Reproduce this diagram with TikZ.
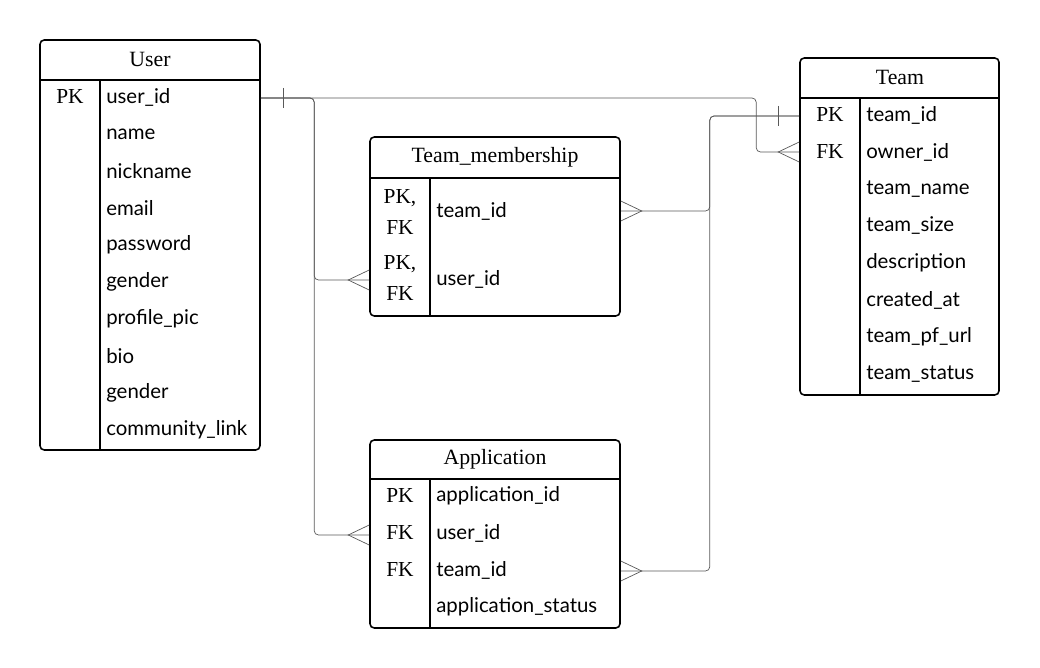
\documentclass[tikz,border=0pt]{standalone}
\usepackage{fontspec}
\setmainfont{Liberation Serif}
\newfontfamily\fieldfont{Lato}
\usetikzlibrary{calc}
\usetikzlibrary{fit}
\usetikzlibrary{positioning}

\begin{document}
\begin{tikzpicture}[x=0.025cm, y=-0.025cm,
		tbl/.style={draw, line width=1.1pt, rounded corners=3pt, inner sep=0pt},
		rule/.style={line width=1.1pt},
		head/.style={font=\fontsize{15.5}{18}\selectfont},
		key/.style={font=\fontsize{15.2}{22}\selectfont, align=center, inner sep=0pt},
		field/.style={anchor=west, font=\fieldfont\fontsize{14.5}{17}\selectfont, inner sep=0pt},
		link/.style={draw=black!65, line width=0.5pt, rounded corners=3pt}]
		\useasboundingbox (0,0) rectangle (1040,668);

		% User
		\node[tbl, fit={(40,40) (260,450)}] (user) {};
		\node[head] (user-title) at (150,59) {User};
		\draw[rule] (40,80) -- (260,80);
		\draw[rule] (100,80) -- (100,450);
		\node[key] (user-k1) at (70,97) {PK};
		\foreach \fname [count=\i] in {user\_id, name, nickname, email, password, gender, profile\_pic, bio, gender, community\_link}
			\node[field] (user-f\i) at (106,{60+37*\i}) {\fname};

		% Team_membership
		\node[tbl, fit={(370,137) (620,316)}] (tm) {};
		\node[head] (tm-title) at (495,157) {Team\_membership};
		\draw[rule] (370,178) -- (620,178);
		\draw[rule] (430,178) -- (430,316);
		\node[key] (tm-k1) at (400,212) {PK,\\FK};
		\node[key] (tm-k2) at (400,278) {PK,\\FK};
		\node[field] (tm-f1) at (436,211) {team\_id};
		\node[field] (tm-f2) at (436,279) {user\_id};

		% Team
		\node[tbl, fit={(800,58) (999,395)}] (team) {};
		\node[head] (team-title) at (900,77) {Team};
		\draw[rule] (800,98) -- (999,98);
		\draw[rule] (860,98) -- (860,395);
		\node[key] (team-k1) at (830,115) {PK};
		\node[key] (team-k2) at (830,152) {FK};
		\foreach \fname [count=\i] in {team\_id, owner\_id, team\_name, team\_size, description, created\_at, team\_pf\_url, team\_status}
			\node[field] (team-f\i) at (866,{78+37*\i}) {\fname};

		% Application
		\node[tbl, fit={(370,440) (620,628)}] (app) {};
		\node[head] (app-title) at (495,459) {Application};
		\draw[rule] (370,479) -- (620,479);
		\draw[rule] (430,479) -- (430,628);
		\node[key] (app-k1) at (400,496) {PK};
		\node[key] (app-k2) at (400,533) {FK};
		\node[key] (app-k3) at (400,570) {FK};
		\foreach \fname [count=\i] in {application\_id, user\_id, team\_id, application\_status}
			\node[field] (app-f\i) at (436,{459+37*\i}) {\fname};

		% connector ends
		\coordinate (user-one) at ($(user.east |- user-f1)+(0,1)$);
		\coordinate (team-one) at ($(team.west |- team-f1)+(0,1)$);
		\coordinate (team-many) at (team.west |- team-k2);
		\coordinate (tm-user) at ($(tm.west |- tm-f2)+(0,1)$);
		\coordinate (tm-team) at (tm.east |- tm-f1);
		\coordinate (app-user) at ($(app.west |- app-f2)+(0,2)$);
		\coordinate (app-team) at ($(app.east |- app-f3)+(0,1)$);

		% User -> Team, Team_membership, Application
		\draw[link] (user-one) -| ($(team-many)+(-43,0)$) -- (team-many);
		\draw[link] (user-one) -| ($(tm-user)+(-55,0)$) -- (tm-user);
		\draw[link] (user-one) -| ($(app-user)+(-55,0)$) -- (app-user);
		\draw[link] ($(user-one)+(23,-10)$) -- ($(user-one)+(23,10)$);

		% Team -> Team_membership, Application
		\draw[link] (team-one) -| ($(tm-team)+(89,0)$) -- (tm-team);
		\draw[link] (team-one) -| ($(app-team)+(89,0)$) -- (app-team);
		\draw[link] ($(team-one)+(-21,-10)$) -- ($(team-one)+(-21,10)$);

		% crow's feet
		\draw[link, sharp corners] ($(team-many)+(0,-10)$) -- ($(team-many)+(-21,0)$) -- ($(team-many)+(0,10)$);
		\draw[link, sharp corners] ($(tm-user)+(0,-10)$) -- ($(tm-user)+(-21,0)$) -- ($(tm-user)+(0,10)$);
		\draw[link, sharp corners] ($(app-user)+(0,-10)$) -- ($(app-user)+(-21,0)$) -- ($(app-user)+(0,10)$);
		\draw[link, sharp corners] ($(tm-team)+(0,-10)$) -- ($(tm-team)+(21,0)$) -- ($(tm-team)+(0,10)$);
		\draw[link, sharp corners] ($(app-team)+(0,-10)$) -- ($(app-team)+(21,0)$) -- ($(app-team)+(0,10)$);
\end{tikzpicture}
\end{document}
